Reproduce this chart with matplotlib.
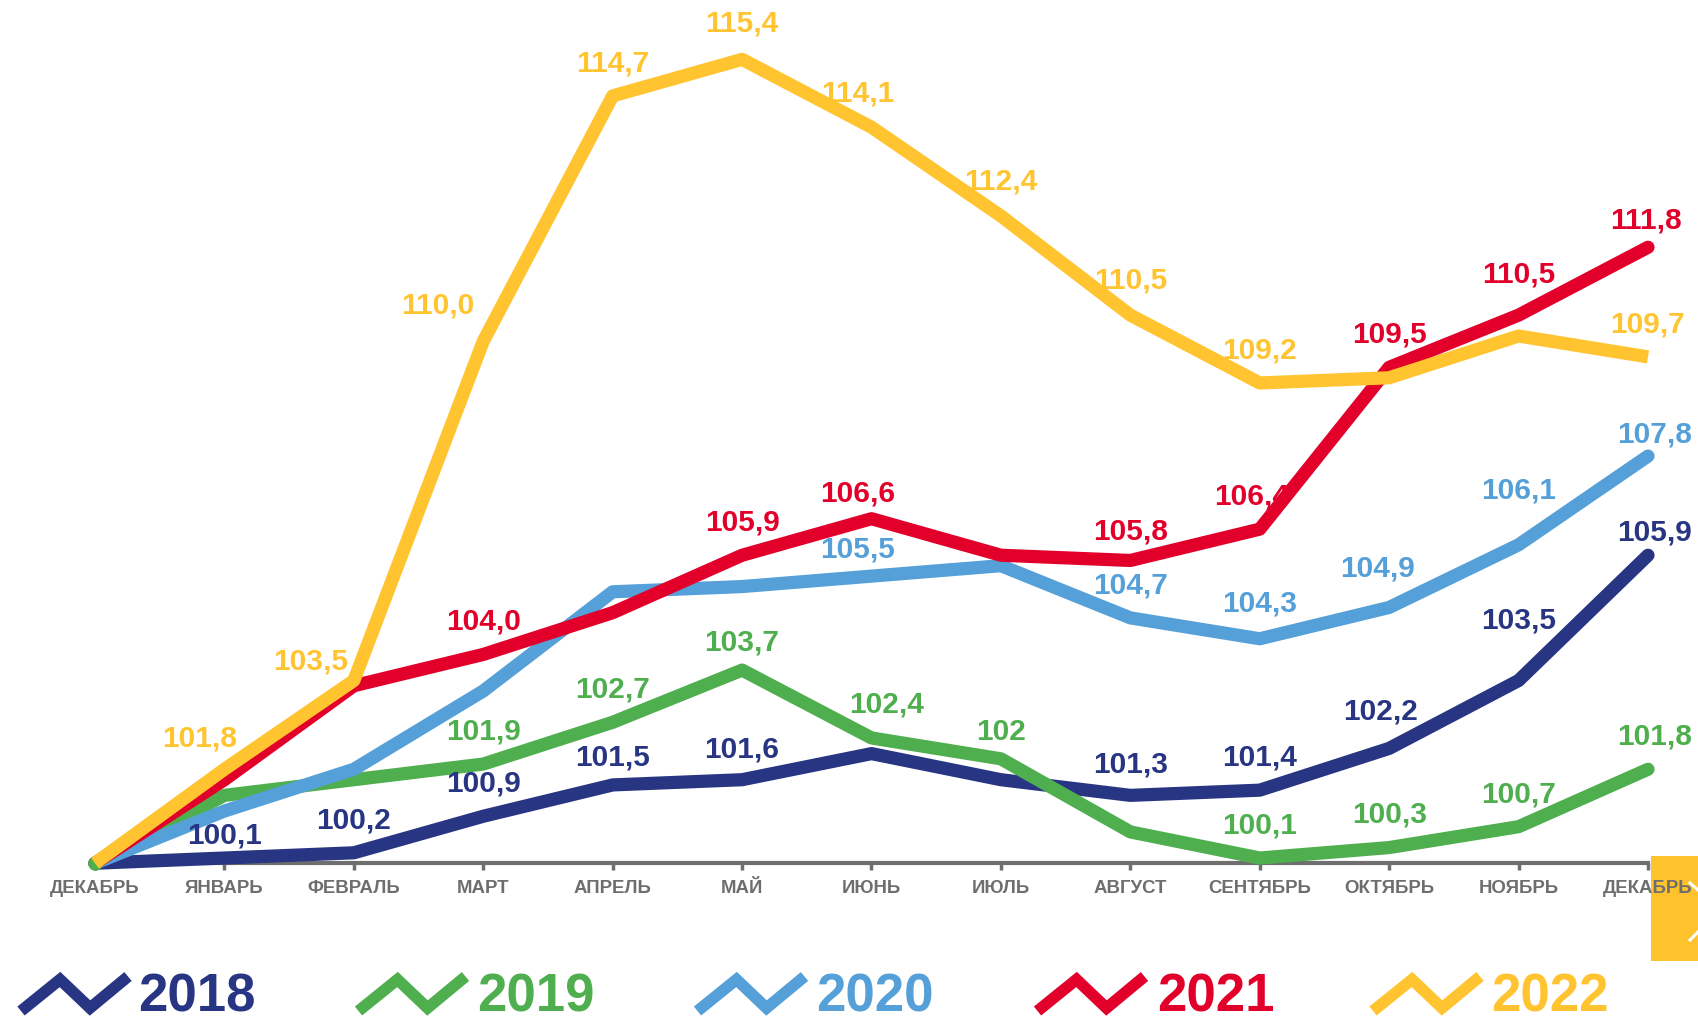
import matplotlib
matplotlib.use("Agg")
import matplotlib.pyplot as plt
from matplotlib.lines import Line2D
from matplotlib.patches import Rectangle

plt.rcParams['font.family'] = ['Liberation Sans', 'DejaVu Sans']

months = ['ДЕКАБРЬ', 'ЯНВАРЬ', 'ФЕВРАЛЬ', 'МАРТ', 'АПРЕЛЬ', 'МАЙ', 'ИЮНЬ',
          'ИЮЛЬ', 'АВГУСТ', 'СЕНТЯБРЬ', 'ОКТЯБРЬ', 'НОЯБРЬ', 'ДЕКАБРЬ']
years = ['2018', '2019', '2020', '2021', '2022']

v2018 = [100, 100.1, 100.2, 100.9, 101.5, 101.6, 102.1, 101.6, 101.3, 101.4, 102.2, 103.5, 105.9]
v2019 = [100, 101.3, 101.6, 101.9, 102.7, 103.7, 102.4, 102.0, 100.6, 100.1, 100.3, 100.7, 101.8]
v2020 = [100, 101.0, 101.8, 103.3, 105.2, 105.3, 105.5, 105.7, 104.7, 104.3, 104.9, 106.1, 107.8]
v2021 = [100, 101.6, 103.4, 104.0, 104.8, 105.9, 106.6, 105.9, 105.8, 106.4, 109.5, 110.5, 111.8]
v2022 = [100, 101.8, 103.5, 110.0, 114.7, 115.4, 114.1, 112.4, 110.5, 109.2, 109.3, 110.1, 109.7]

# shown labels (None = no label in the picture)
l2018 = [None, '100,1', '100,2', '100,9', '101,5', '101,6', None, None, '101,3', '101,4', '102,2', '103,5', '105,9']
l2019 = [None, None, None, '101,9', '102,7', '103,7', '102,4', '102', None, '100,1', '100,3', '100,7', '101,8']
l2020 = [None, None, None, None, None, None, '105,5', None, '104,7', '104,3', '104,9', '106,1', '107,8']
l2021 = [None, None, None, '104,0', None, '105,9', '106,6', None, '105,8', '106,4', '109,5', '110,5', '111,8']
l2022 = [None, '101,8', '103,5', '110,0', '114,7', '115,4', '114,1', '112,4', '110,5', '109,2', None, None, '109,7']

colors = ['#283583', '#4FAF4F', '#55A0D8', '#E2002B', '#FFC42F']
grey = '#6E6E6E'

# label offsets in points (dx, dy), default above the point
default_off = (0, 23.5)
offsets = [
    {1: (0, 16), 2: (0, 23), 4: (0, 19.5), 5: (0, 22), 8: (0, 22.5), 10: (-6, 26.5), 11: (0, 43.5), 12: (5, 16.5)},
    {5: (0, 20), 6: (11, 24), 7: (0, 19), 12: (5, 23.5)},
    {6: (-10, 19.5), 9: (0, 25.5), 10: (-8.5, 28), 11: (0, 39), 12: (5, 15.5)},
    {6: (-10, 18), 8: (0, 21), 9: (-6, 23.5), 11: (0, 29), 12: (-1.5, 19.5)},
    {1: (-18, 22.5), 2: (-31, 14), 3: (-33, 25.5), 5: (0, 25.5), 6: (-10, 24), 7: (0, 25), 8: (0, 25)},
]

W, H = 1698, 1017
fig = plt.figure(figsize=(W / 100, H / 100), dpi=100, facecolor='white')
ax = fig.add_axes([95 / W, 0.1512, (1648 - 95) / W, 16 * 52.2 / H])
ax.patch.set_visible(False)

x = list(range(len(months)))
series = [v2018, v2019, v2020, v2021, v2022]
labels = [l2018, l2019, l2020, l2021, l2022]
for k, (vals, labs) in enumerate(zip(series, labels)):
    cap = 'butt' if k == 4 else 'round'
    ax.plot(x, vals, color=colors[k], lw=9.5, solid_capstyle=cap,
            solid_joinstyle='round', clip_on=False, zorder=3 + k)
    for i, t in enumerate(labs):
        if t is None:
            continue
        off = offsets[k].get(i, default_off)
        ax.annotate(t, (i, vals[i]), xytext=off, textcoords='offset points',
                    ha='center', va='center', fontsize=21.5, fontweight='bold',
                    color=colors[k], zorder=10, annotation_clip=False)

# green start dot that peeks out under the yellow line
ax.plot(x[:1], v2019[:1], 'o', ms=9.5, color=colors[1], clip_on=False, zorder=6.5)

ax.set_xlim(0, 12)
ax.set_ylim(100, 116)
for s in ['top', 'right', 'left']:
    ax.spines[s].set_visible(False)
ax.spines['bottom'].set_color(grey)
ax.spines['bottom'].set_linewidth(3)
ax.spines['bottom'].set_zorder(2)
ax.set_yticks([])
ax.set_xticks(x)
ax.set_xticklabels(months, fontsize=13.4, fontweight='bold', color=grey)
ax.tick_params(axis='x', direction='out', length=5, width=2.5, color=grey, pad=7)

# legend at the bottom
def fx(px):
    return px / W

def fy(py):
    return 1 - py / H

icon_x = [18, 355.5, 694.5, 1034.5, 1370]
text_x = [138, 477, 816, 1157, 1491]
icon_dx = [3, 42, 72, 110]
icon_y = [1011, 979.5, 1008, 976.5]
for k in range(5):
    xs = [fx(icon_x[k] + d) for d in icon_dx]
    ys = [fy(v) for v in icon_y]
    fig.add_artist(Line2D(xs, ys, transform=fig.transFigure, color=colors[k],
                          lw=8.3, solid_capstyle='butt', solid_joinstyle='miter'))
    fig.text(fx(text_x[k]), fy(1011), years[k], color=colors[k], fontsize=38,
             fontweight='bold', ha='left', va='baseline')

# yellow corner box from the slide
fig.add_artist(Rectangle((fx(1651), fy(961)), fx(W - 1651), (961 - 856) / H,
                         transform=fig.transFigure, facecolor='#FEC22D',
                         edgecolor='none', zorder=-1))
fig.add_artist(Line2D([fx(1690), fx(1698)], [fy(883), fy(890)], transform=fig.transFigure,
                      color='white', lw=2.2))
fig.add_artist(Line2D([fx(1690), fx(1698)], [fy(940), fy(932)], transform=fig.transFigure,
                      color='white', lw=2.2))

fig.savefig('out.png', dpi=100, facecolor='white')
